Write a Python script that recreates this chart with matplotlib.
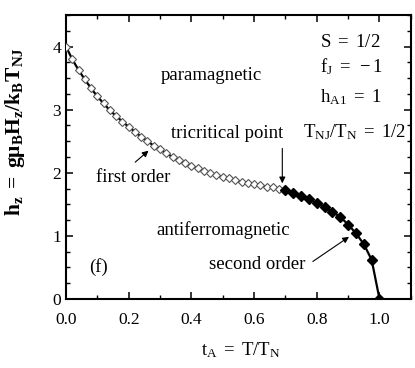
import matplotlib
matplotlib.use("Agg")
import matplotlib.pyplot as plt
from matplotlib.ticker import MultipleLocator

plt.rcParams['font.family'] = ['Liberation Serif', 'DejaVu Serif']
plt.rcParams['mathtext.fontset'] = 'custom'
plt.rcParams['mathtext.rm'] = 'Liberation Serif'
plt.rcParams['mathtext.it'] = 'Liberation Serif:italic'
plt.rcParams['mathtext.bf'] = 'Liberation Serif:bold'

# first-order line (open diamonds)
t_first = [0.00, 0.02, 0.04, 0.06, 0.08, 0.10, 0.12, 0.14, 0.16, 0.18,
           0.20, 0.22, 0.24, 0.26, 0.28, 0.30, 0.32, 0.34, 0.36, 0.38,
           0.40, 0.42, 0.44, 0.46, 0.48, 0.50, 0.52, 0.54, 0.56, 0.58,
           0.60, 0.62, 0.64, 0.66, 0.68, 0.70]
h_first = [4.00, 3.80, 3.63, 3.48, 3.34, 3.21, 3.10, 2.99, 2.90, 2.81,
           2.73, 2.65, 2.57, 2.50, 2.43, 2.37, 2.31, 2.25, 2.20, 2.15,
           2.11, 2.07, 2.03, 2.00, 1.96, 1.93, 1.91, 1.88, 1.86, 1.84,
           1.82, 1.80, 1.78, 1.77, 1.75, 1.73]

# second-order line (filled diamonds)
t_second = [0.7, 0.725, 0.75, 0.775, 0.8, 0.825, 0.85, 0.875, 0.9, 0.925,
            0.95, 0.975, 1.0]
h_second = [1.73, 1.68, 1.63, 1.58, 1.52, 1.46, 1.38, 1.30, 1.18, 1.04,
            0.87, 0.62, 0.0]

fig = plt.figure(figsize=(4.15, 3.68), dpi=100)
ax = fig.add_axes([0.159, 0.1875, 0.831, 0.7715])

ax.plot(t_first + t_second[1:], h_first + h_second[1:], color='black', lw=1.6, zorder=2)
ax.plot(t_first, h_first, linestyle='none', marker='D', markersize=4.3,
        markerfacecolor='white', markeredgecolor='#555555', markeredgewidth=0.8, zorder=3)
ax.plot(t_second, h_second, linestyle='none', marker='D', markersize=5.5,
        color='black', zorder=3)

ax.set_xlim(0, 1.1)
ax.set_ylim(0, 4.5)
ax.xaxis.set_minor_locator(MultipleLocator(0.1))
ax.yaxis.set_major_locator(MultipleLocator(1))
ax.yaxis.set_minor_locator(MultipleLocator(0.25))
ax.set_xticks([0.0, 0.2, 0.4, 0.6, 0.8, 1.0])
ax.set_xticklabels(['0.0', '0.2', '0.4', '0.6', '0.8', '1.0'])
ax.tick_params(which='both', direction='in', top=True, right=True, labelsize=12.5)
ax.tick_params(which='major', length=5, width=1.1)
ax.tick_params(which='minor', length=3, width=1.0)
ax.tick_params(axis='x', which='major', pad=9)
for s in ax.spines.values():
    s.set_linewidth(1.5)

ax.set_xlabel(r'$\mathrm{t_A\ =\ T/T_N}$', fontsize=13.5)
ax.xaxis.set_label_coords(0.507, -0.145)
ax.set_ylabel(r'$\mathbf{h_z\ =\ g\mu_B H_z/k_B T_{NJ}}$', fontsize=15.5)
ax.yaxis.set_label_coords(-0.112, 0.59)

fs = 13.5
ax.text(0.465, 3.54, 'paramagnetic', fontsize=fs, ha='center', va='center')
ax.text(0.50, 1.09, 'antiferromagnetic', fontsize=fs, ha='center', va='center')
ax.text(0.105, 0.51, '(f)', fontsize=fs, ha='center', va='center')
ax.text(0.81, 4.06, r'$\mathrm{S\ =\ 1/2}$', fontsize=fs, ha='left', va='center')
ax.text(0.81, 3.68, r'$\mathrm{f_J\ =\ -1}$', fontsize=fs, ha='left', va='center')
ax.text(0.81, 3.20, r'$\mathrm{h_{A1}\ =\ 1}$', fontsize=fs, ha='left', va='center')
ax.text(0.755, 2.64, r'$\mathrm{T_{NJ}/T_N\ =\ 1/2}$', fontsize=fs, ha='left', va='center')

arrow = dict(arrowstyle='-|>', color='black', lw=0.8, mutation_scale=9)
ax.text(0.513, 2.62, 'tricritical point', fontsize=fs, ha='center', va='center')
ax.annotate('', xy=(0.69, 1.79), xytext=(0.69, 2.43), arrowprops=arrow)
ax.text(0.214, 1.93, 'first order', fontsize=fs, ha='center', va='center')
ax.annotate('', xy=(0.27, 2.38), xytext=(0.214, 2.14), arrowprops=arrow)
ax.text(0.61, 0.55, 'second order', fontsize=fs, ha='center', va='center')
ax.annotate('', xy=(0.91, 1.01), xytext=(0.78, 0.57), arrowprops=arrow)

fig.savefig('out.png', dpi=100)
